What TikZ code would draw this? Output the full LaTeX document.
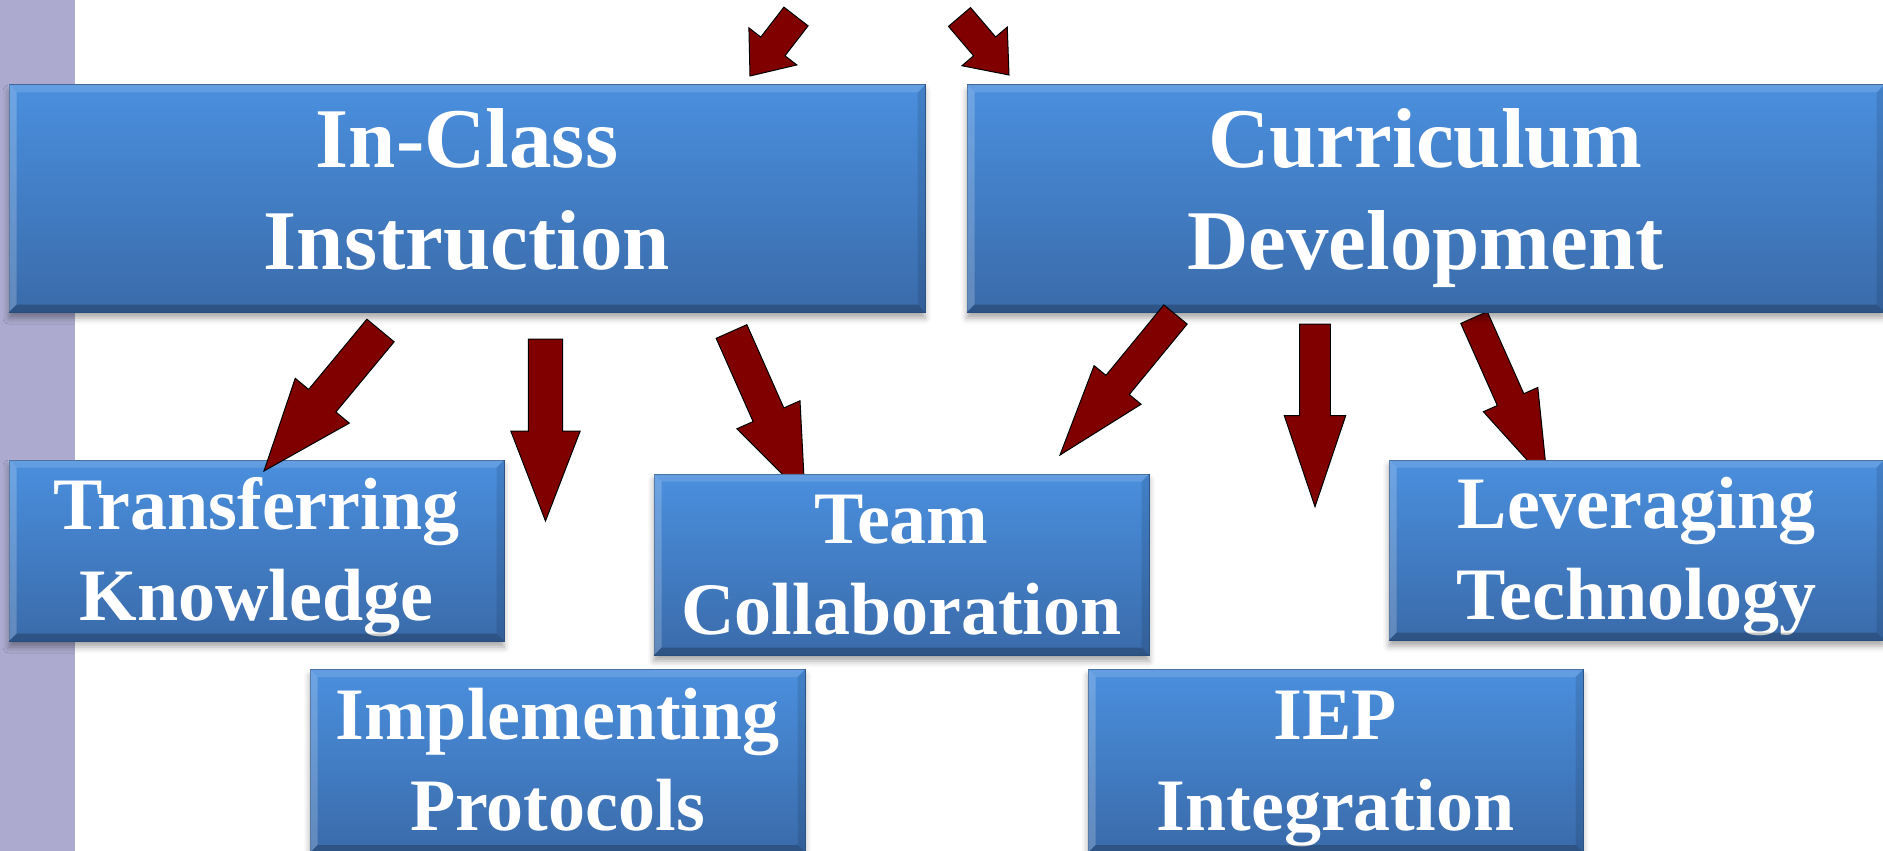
\documentclass[tikz,border=0pt]{standalone}
\usepackage{fontspec}
\setmainfont{Liberation Serif}
\usetikzlibrary{calc,shadows.blur}
\definecolor{barcol}{HTML}{ACABCF}
\definecolor{boxtop}{HTML}{4A8FDE}
\definecolor{boxbot}{HTML}{3A6BAA}
\definecolor{boxedge}{HTML}{2F5A8F}
\definecolor{arrowred}{HTML}{800000}
\newcommand{\bigfont}{\fontsize{85}{102}\selectfont\bfseries}
\newcommand{\smfont}{\fontsize{74}{91}\selectfont\bfseries}
\newcommand{\twolines}[4]{\rule{0pt}{#3}#1\\#2\rule[-#4]{0pt}{#4}}
\newcommand{\bevel}[1]{%
  \fill[bevlight] (#1.north west) -- (#1.north east) -- ($(#1.north east)+(-8,8)$) -- ($(#1.north west)+(8,8)$) -- cycle;
  \fill[bevlight, fill opacity=0.2] (#1.north west) -- ($(#1.north west)+(8,8)$) -- ($(#1.south west)+(8,-8)$) -- (#1.south west) -- cycle;
  \fill[bevdark] (#1.south west) -- ($(#1.south west)+(8,-8)$) -- ($(#1.south east)+(-8,-8)$) -- (#1.south east) -- cycle;
  \fill[bevdark, fill opacity=0.1] (#1.north east) -- ($(#1.north east)+(-8,8)$) -- ($(#1.south east)+(-8,-8)$) -- (#1.south east) -- cycle;
}
% #1 tail, #2 tip, #3 half shaft width, #4 half head width, #5 head length
\newcommand{\blockarrow}[5]{%
  \coordinate (tmpN) at ($(#2)!#5!(#1)$);
  \draw[barrow] ($(#1)!#3!90:(#2)$) -- ($(tmpN)!#3!-90:(#1)$) -- ($(tmpN)!#4!-90:(#1)$) -- (#2)
    -- ($(tmpN)!#4!90:(#1)$) -- ($(tmpN)!#3!90:(#1)$) -- ($(#1)!#3!-90:(#2)$) -- cycle;
}
\tikzset{
  boxbase/.style={rectangle, draw=boxedge, line width=1pt, top color=boxtop, bottom color=boxbot,
    text=white, align=center, inner sep=0pt,
    blur shadow={shadow xshift=0pt, shadow yshift=-6pt, shadow blur radius=6pt, shadow opacity=35}},
  bigbox/.style={boxbase, font=\bigfont},
  smbox/.style={boxbase, font=\smfont, minimum width=495pt, minimum height=181pt},
  barrow/.style={fill=arrowred, draw=black, line width=1pt, line join=miter},
  bevlight/.style={fill=white, fill opacity=0.14, draw=none},
  bevdark/.style={fill=black, fill opacity=0.22, draw=none},
}
\begin{document}
\begin{tikzpicture}[x=1pt,y=-1pt]
\useasboundingbox (0,0) rectangle (1883,851);
\fill[barcol] (0,0) rectangle (75,851);

% arrow end points
\coordinate (aT) at (796,16.5);    \coordinate (aP) at (750,76);
\coordinate (bT) at (959.5,17);    \coordinate (bP) at (1009,75);
\coordinate (cT) at (380.5,330.5); \coordinate (cP) at (264,471);
\coordinate (dT) at (545.5,339);   \coordinate (dP) at (545.5,521);
\coordinate (eT) at (731.5,331.5); \coordinate (eP) at (805,497);
\coordinate (fT) at (1175.5,314.5);\coordinate (fP) at (1060,455);
\coordinate (gT) at (1315,324);    \coordinate (gP) at (1315,506.7);
\coordinate (hT) at (1474,317.5);  \coordinate (hP) at (1547.6,482.7);

% arrows that pass behind their target boxes
\blockarrow{eT}{eP}{16.8pt}{34.5pt}{90pt}
\blockarrow{hT}{hP}{14.5pt}{29.8pt}{91pt}

% boxes
\node[bigbox, minimum width=916pt, minimum height=227pt] (inclass) at (467,198.5)
  {\twolines{In-Class}{Instruction}{0.71em}{0.25em}};
\node[bigbox, minimum width=917pt, minimum height=227pt] (curric) at (1425.5,198.5)
  {\twolines{Curriculum}{Development}{0.71em}{0.25em}};
\node[smbox] (transfer) at (256.5,550.5)
  {\twolines{Transferring}{Knowledge}{0.9em}{0.25em}};
\node[smbox, minimum height=183pt] (implement) at (557.5,761)
  {\twolines{Implementing}{Protocols}{0.9em}{0.25em}};
\node[smbox] (team) at (901.5,564.5)
  {\twolines{Team}{Collaboration}{0.9em}{0.25em}};
\node[smbox, minimum height=180pt] (leverage) at (1636.5,550)
  {\twolines{Leveraging}{Technology}{0.9em}{0.25em}};
\node[smbox, minimum height=183pt] (iep) at (1335.5,761)
  {\twolines{IEP}{Integration}{0.9em}{0.25em}};
\foreach \n in {inclass,curric,transfer,implement,team,leverage,iep} {\bevel{\n}}

\blockarrow{aT}{aP}{15.3pt}{30.3pt}{37.4pt}
\blockarrow{bT}{bP}{14.5pt}{29.8pt}{37.6pt}
\blockarrow{cT}{cP}{17.7pt}{35.1pt}{91.3pt}
\blockarrow{dT}{dP}{17.2pt}{34.7pt}{90pt}
\blockarrow{fT}{fP}{15.1pt}{30.4pt}{90.7pt}
\blockarrow{gT}{gP}{15.3pt}{30.7pt}{91pt}
\end{tikzpicture}
\end{document}
